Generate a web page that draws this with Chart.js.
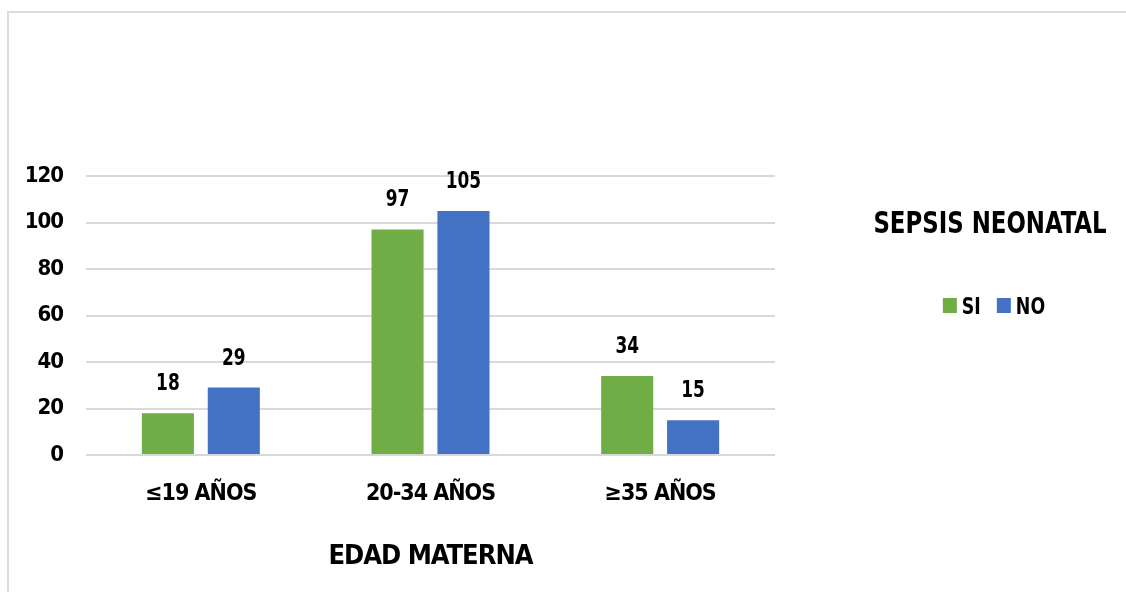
<!DOCTYPE html>
<html>
<head>
<meta charset="utf-8">
<title>Sepsis neonatal según edad materna</title>
<script src="https://cdn.jsdelivr.net/npm/chart.js@4/dist/chart.umd.min.js"></script>
<style>
  html, body { margin: 0; padding: 0; background: #ffffff; }
  #wrap { position: relative; width: 1126px; height: 592px; }
</style>
</head>
<body>
<div id="wrap"><canvas id="chart" width="1126" height="592"></canvas></div>
<script>
// Age groups of the mother and neonatal sepsis counts
const categories = ['≤19 AÑOS', '20-34 AÑOS', '≥35 AÑOS'];
const seriesNames = ['SI', 'NO'];
const sepsisSi = [18, 97, 34];
const sepsisNo = [29, 105, 15];
const yTicks = [0, 20, 40, 60, 80, 100, 120];

const FONT = "'DejaVu Sans Condensed', 'DejaVu Sans', sans-serif";
const GREEN = '#70AD47';
const BLUE = '#4472C4';
const GRID = '#d9d9d9';
const TIGHT = '-1px';

// Text drawn narrower than the face's natural width
function narrowText(ctx, text, x, y, sx) {
  ctx.save();
  ctx.translate(x, y);
  ctx.scale(sx, 1);
  ctx.fillText(text, 0, 0);
  ctx.restore();
}

// Slightly tighter tracking for the axis text, white background and the frame
const framePlugin = {
  id: 'frame',
  beforeLayout(chart) {
    chart.ctx.letterSpacing = TIGHT;
  },
  beforeDraw(chart) {
    const ctx = chart.ctx;
    ctx.letterSpacing = TIGHT;
    ctx.save();
    ctx.fillStyle = '#ffffff';
    ctx.fillRect(0, 0, chart.width, chart.height);
    ctx.strokeStyle = '#dcdcdc';
    ctx.lineWidth = 2;
    ctx.beginPath();
    ctx.moveTo(8, chart.height);
    ctx.lineTo(8, 12);
    ctx.lineTo(chart.width, 12);
    ctx.stroke();
    ctx.restore();
  }
};

// Value written above every bar
const valueLabels = {
  id: 'valueLabels',
  afterDatasetsDraw(chart) {
    const ctx = chart.ctx;
    ctx.save();
    ctx.letterSpacing = '0px';
    ctx.font = 'bold 23px ' + FONT;
    ctx.fillStyle = '#000000';
    ctx.textAlign = 'center';
    ctx.textBaseline = 'alphabetic';
    chart.data.datasets.forEach((ds, i) => {
      chart.getDatasetMeta(i).data.forEach((bar, j) => {
        narrowText(ctx, String(ds.data[j]), bar.x, bar.y - 23, 0.82);
      });
    });
    ctx.restore();
  }
};

// Legend with heading, items laid out side by side to the right of the plot
const sideLegend = {
  id: 'sideLegend',
  afterDraw(chart) {
    const ctx = chart.ctx;
    ctx.save();
    ctx.letterSpacing = '0px';
    ctx.fillStyle = '#000000';
    ctx.textAlign = 'center';
    ctx.textBaseline = 'alphabetic';
    ctx.font = 'bold 31px ' + FONT;
    narrowText(ctx, 'SEPSIS NEONATAL', 990, 233, 0.82);

    const sx = 0.84;
    ctx.font = 'bold 23px ' + FONT;
    const boxW = 14, boxH = 15, boxGap = 5, itemGap = 16;
    const items = chart.data.datasets.map(ds => ({
      label: ds.label, color: ds.backgroundColor,
      w: boxW + boxGap + ctx.measureText(ds.label).width * sx
    }));
    const total = items.reduce((s, it) => s + it.w, 0) + itemGap * (items.length - 1);
    let x = 994 - total / 2;
    ctx.textAlign = 'left';
    items.forEach(it => {
      ctx.fillStyle = it.color;
      ctx.fillRect(x, 298, boxW, boxH);
      ctx.fillStyle = '#000000';
      narrowText(ctx, it.label, x + boxW + boxGap, 314, sx);
      x += it.w + itemGap;
    });
    ctx.restore();
  }
};

new Chart(document.getElementById('chart'), {
  type: 'bar',
  data: {
    labels: categories,
    datasets: [
      { label: seriesNames[0], data: sepsisSi, backgroundColor: GREEN,
        categoryPercentage: 0.574, barPercentage: 0.79 },
      { label: seriesNames[1], data: sepsisNo, backgroundColor: BLUE,
        categoryPercentage: 0.574, barPercentage: 0.79 }
    ]
  },
  options: {
    responsive: false,
    animation: false,
    layout: { padding: { top: 176, left: 8, right: 351, bottom: 0 } },
    plugins: {
      legend: { display: false },
      tooltip: { enabled: false },
      title: { display: false }
    },
    scales: {
      x: {
        grid: { display: false, drawTicks: false },
        border: { display: false },
        ticks: {
          padding: 25,
          color: '#000000',
          font: { family: FONT, size: 23, weight: 'bold' }
        },
        title: {
          display: true,
          text: 'EDAD MATERNA',
          color: '#000000',
          font: { family: FONT, size: 27, weight: 'bold' },
          padding: { top: 0, bottom: 19 }
        },
        afterFit(scale) { scale.height = 137; }
      },
      y: {
        min: 0,
        max: 120,
        afterBuildTicks(scale) { scale.ticks = yTicks.map(v => ({ value: v })); },
        grid: { color: GRID, lineWidth: 2, drawTicks: false },
        border: { display: false },
        ticks: {
          padding: 23,
          color: '#000000',
          font: { family: FONT, size: 22, weight: 'bold' }
        },
        afterFit(scale) { scale.width = 78; }
      }
    }
  },
  plugins: [framePlugin, valueLabels, sideLegend]
});
</script>
</body>
</html>
